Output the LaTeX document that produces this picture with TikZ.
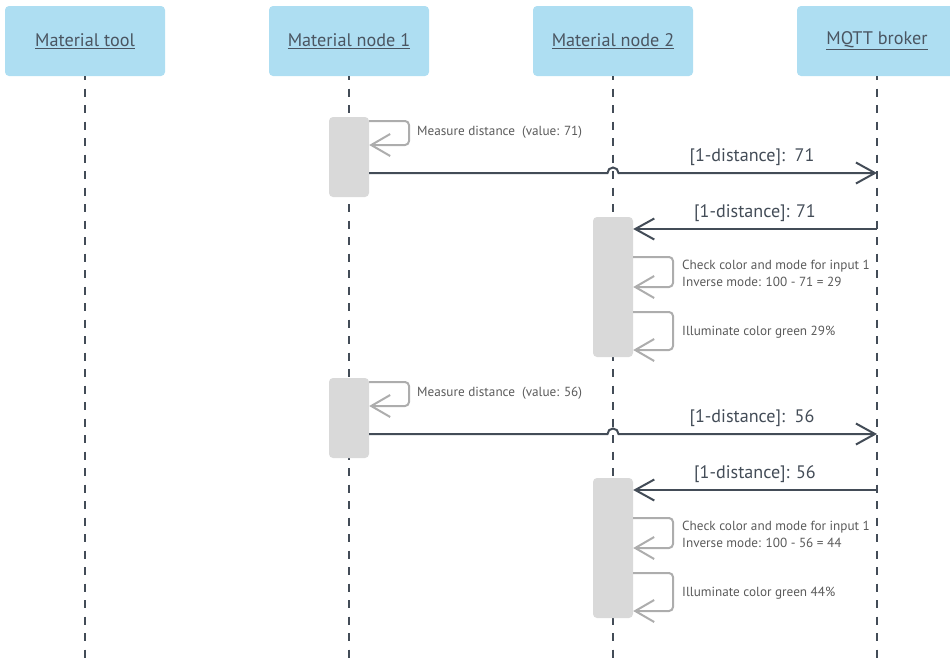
\documentclass[tikz,border=0pt]{standalone}
\usepackage{fontspec}
\setmainfont{PT Sans}
\usetikzlibrary{arrows.meta}
\definecolor{hdrblue}{HTML}{AEDEF2}
\definecolor{hdrtext}{HTML}{4A5561}
\definecolor{msgcol}{HTML}{434C57}
\definecolor{actgray}{HTML}{D9D9D9}
\definecolor{loopgray}{HTML}{ADADAD}
\definecolor{looptext}{HTML}{5A5A5A}
\tikzset{
  x=1pt, y=-1pt,
  header/.style={fill=hdrblue, draw=none, rounded corners=4pt, minimum width=160pt, minimum height=70pt, inner sep=0pt, text=hdrtext, font=\fontsize{18.2}{20}\selectfont},
  lifeline/.style={draw=msgcol, line width=2pt, dash pattern=on 8pt off 8.5pt, dash phase=4pt},
  act/.style={fill=actgray, draw=none, rounded corners=4pt, minimum width=40pt, inner sep=0pt},
  msg/.style={draw=msgcol, line width=2pt, -{Straight Barb[length=19pt 0 0, width=21pt 0 0, line width=2pt]}},
  selfloop/.style={draw=loopgray, line width=2pt, rounded corners=4pt, -{Straight Barb[length=19pt 0 0, width=22pt 0 0, line width=2pt]}},
  msglabel/.style={text=msgcol, font=\fontsize{18.1}{20}\selectfont, inner sep=0pt},
  looplabel/.style={text=looptext, font=\fontsize{13.2}{17}\selectfont, inner sep=0pt, anchor=west, align=left},
}
\newcommand{\ulhdr}[1]{\underline{#1}}
\begin{document}
\begin{tikzpicture}
\useasboundingbox (0,0) rectangle (950,659);
% headers
\node[header] (h1) at (85,41) {\ulhdr{Material tool}};
\node[header] (h2) at (349,41) {\ulhdr{Material node 1}};
\node[header] (h3) at (613,41) {\ulhdr{Material node 2}};
\node[header] (h4) at (877,41) {\ulhdr{MQTT broker}};
% lifeline ends
\coordinate (e1) at (85,659);
\coordinate (e2) at (349,659);
\coordinate (e3) at (613,659);
\coordinate (e4) at (877,659);
\foreach \i in {1,2,3,4} \draw[lifeline] (h\i.south) -- (e\i);
% activation boxes
\node[act, minimum height=80pt] (a1) at (349,157) {};
\node[act, minimum height=140pt] (a2) at (613,287) {};
\node[act, minimum height=80pt] (a3) at (349,418) {};
\node[act, minimum height=140pt] (a4) at (613,548) {};
% ---- first cycle ----
\draw[selfloop] (a1.east |- 0,121) -- (409,121) -- (409,145) -- (a1.east |- 0,145);
\node[looplabel] (l1) at (417,132) {Measure distance\ \ (value: 71)};
\coordinate (m1s) at (a1.east |- 0,173);
\coordinate (m1e) at (e4 |- 0,173);
\draw[msg] (m1s) -- (607.5,173) arc[start angle=180, end angle=0, radius=5.5pt] -- (m1e);
\node[msglabel] (t1) at (752,157.5) {[1-distance]:\ \ 71};
\coordinate (m2s) at (e4 |- 0,229);
\coordinate (m2e) at (a2.east |- 0,229);
\draw[msg] (m2s) -- (m2e);
\node[msglabel] (t2) at (755,213.5) {[1-distance]: 71};
\draw[selfloop] (a2.east |- 0,257) -- (673,257) -- (673,287) -- (a2.east |- 0,287);
\node[looplabel] (l2) at (682,273) {Check color and mode for input 1\\Inverse mode: 100 - 71 = 29};
\draw[selfloop] (a2.east |- 0,312) -- (673,312) -- (673,350) -- (a2.east |- 0,350);
\node[looplabel] (l3) at (682,332) {Illuminate color green 29\%};
% ---- second cycle ----
\draw[selfloop] (a3.east |- 0,382) -- (409,382) -- (409,406) -- (a3.east |- 0,406);
\node[looplabel] (l4) at (417,393) {Measure distance\ \ (value: 56)};
\coordinate (m3s) at (a3.east |- 0,434);
\coordinate (m3e) at (e4 |- 0,434);
\draw[msg] (m3s) -- (607.5,434) arc[start angle=180, end angle=0, radius=5.5pt] -- (m3e);
\node[msglabel] (t3) at (752,418.5) {[1-distance]:\ \ 56};
\coordinate (m4s) at (e4 |- 0,490);
\coordinate (m4e) at (a4.east |- 0,490);
\draw[msg] (m4s) -- (m4e);
\node[msglabel] (t4) at (755,474.5) {[1-distance]: 56};
\draw[selfloop] (a4.east |- 0,518) -- (673,518) -- (673,548) -- (a4.east |- 0,548);
\node[looplabel] (l5) at (682,534) {Check color and mode for input 1\\Inverse mode: 100 - 56 = 44};
\draw[selfloop] (a4.east |- 0,573) -- (673,573) -- (673,611) -- (a4.east |- 0,611);
\node[looplabel] (l6) at (682,593) {Illuminate color green 44\%};
\end{tikzpicture}
\end{document}
